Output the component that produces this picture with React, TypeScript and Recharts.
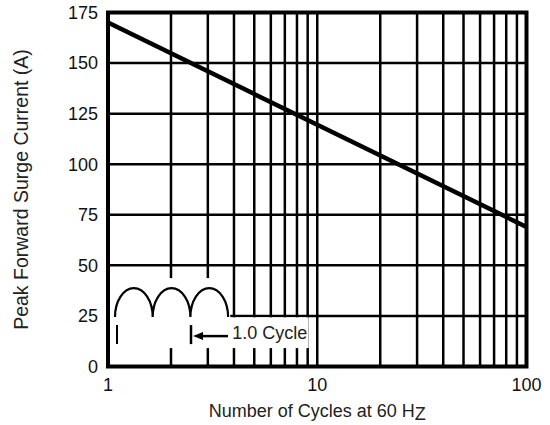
import React from 'react';
import { LineChart, Line, XAxis, YAxis, CartesianGrid, ReferenceArea } from 'recharts';

// values (straight on the log axis)
const cycles = [1, 10, 100];
const surgeCurrent = [170, 119.5, 69];

const xTicks = [1, 2, 3, 4, 5, 6, 7, 8, 9, 10, 20, 30, 40, 50, 60, 70, 80, 90, 100];
const xTickLabels = [1, 10, 100];
const yTicks = [0, 25, 50, 75, 100, 125, 150, 175];

const chartData = cycles.map((c, i) => ({ cycles: c, current: surgeCurrent[i] }));

const FONT = 'Liberation Sans, Arial, sans-serif';

const XLabel = (props: any) => {
  const { viewBox } = props;
  const cx = viewBox.x + viewBox.width / 2;
  return (
    <text x={cx} y={viewBox.y + 50} textAnchor="middle" fontFamily={FONT} fontSize={18} fill="#222">
      Number of Cycles at 60 H<tspan dy={3}>Z</tspan>
    </text>
  );
};

const YLabel = (props: any) => {
  const { viewBox } = props;
  const cx = viewBox.x + 21;
  const cy = viewBox.y + viewBox.height / 2;
  return (
    <text
      x={cx}
      y={cy}
      dy="0.36em"
      transform={`rotate(-90, ${cx}, ${cy})`}
      textAnchor="middle"
      fontFamily={FONT}
      fontSize={19.5}
      fill="#222"
    >
      Peak Forward Surge Current (A)
    </text>
  );
};

// waveform sketch in the lower-left corner
const InsetShape = (props: any) => {
  const { x, y, width, height } = props;
  const w = 37.7;
  const x0 = x + 7;
  const base = y + 39;
  let d = `M ${x0} ${base}`;
  for (let i = 0; i < 3; i++) {
    d += ` A ${w / 2} 29 0 0 1 ${x0 + w * (i + 1)} ${base}`;
  }
  return (
    <g>
      <rect x={x} y={y} width={width} height={height} fill="#fff" />
      <path d={d} fill="none" stroke="#000" strokeWidth={2.2} />
      <line x1={x + 9} y1={y + 47} x2={x + 9} y2={y + 66} stroke="#000" strokeWidth={2} />
      <line x1={x + 83} y1={y + 47} x2={x + 83} y2={y + 66} stroke="#000" strokeWidth={2.5} />
      <line x1={x + 90} y1={y + 58} x2={x + 120} y2={y + 58} stroke="#000" strokeWidth={2.5} />
      <polygon points={`${x + 85},${y + 58} ${x + 95},${y + 54} ${x + 95},${y + 62}`} fill="#000" />
    </g>
  );
};

const CycleText = (props: any) => {
  const { x, y, width, height } = props;
  return (
    <g>
      <rect x={x} y={y} width={width} height={height} fill="#fff" />
      <text x={x + 2} y={y + 22} fontFamily={FONT} fontSize={18} fill="#222">
        1.0 Cycle
      </text>
    </g>
  );
};

const BorderShape = (props: any) => {
  const { x, y, width, height } = props;
  return <rect x={x} y={y} width={width} height={height} fill="none" stroke="#000" strokeWidth={4} />;
};

export default function App() {
  return (
    <div style={{ position: 'absolute', top: 0, left: 0, width: 550, height: 425, background: '#fff' }}>
      <LineChart
        width={550}
        height={425}
        data={chartData}
        margin={{ top: 12.5, right: 23.5, bottom: 0, left: 0 }}
        style={{ overflow: 'visible' }}
      >
        <CartesianGrid stroke="#000" strokeWidth={2.5} />
        <XAxis
          dataKey="cycles"
          type="number"
          scale="log"
          domain={[1, 100]}
          ticks={xTicks}
          tickFormatter={(v: number) => (xTickLabels.includes(v) ? String(v) : '')}
          interval={0}
          allowDataOverflow
          axisLine={false}
          tickLine={false}
          tickMargin={6}
          height={58.5}
          tick={{ fill: '#111', fontSize: 18, fontFamily: FONT }}
          label={<XLabel />}
        />
        <YAxis
          type="number"
          domain={[0, 175]}
          ticks={yTicks}
          interval={0}
          axisLine={false}
          tickLine={false}
          tickMargin={4}
          width={108}
          tick={{ fill: '#111', fontSize: 18, fontFamily: FONT }}
          label={<YLabel />}
        />
        <Line
          dataKey="current"
          type="linear"
          stroke="#000"
          strokeWidth={4.5}
          dot={false}
          isAnimationActive={false}
        />
        <ReferenceArea x1={1} x2={3.84} y1={9.1} y2={43.7} shape={<InsetShape />} />
        <ReferenceArea x1={3.84} x2={9.1} y1={9.1} y2={24.3} shape={<CycleText />} />
        <ReferenceArea x1={1} x2={100} y1={0} y2={175} shape={<BorderShape />} />
      </LineChart>
    </div>
  );
}
